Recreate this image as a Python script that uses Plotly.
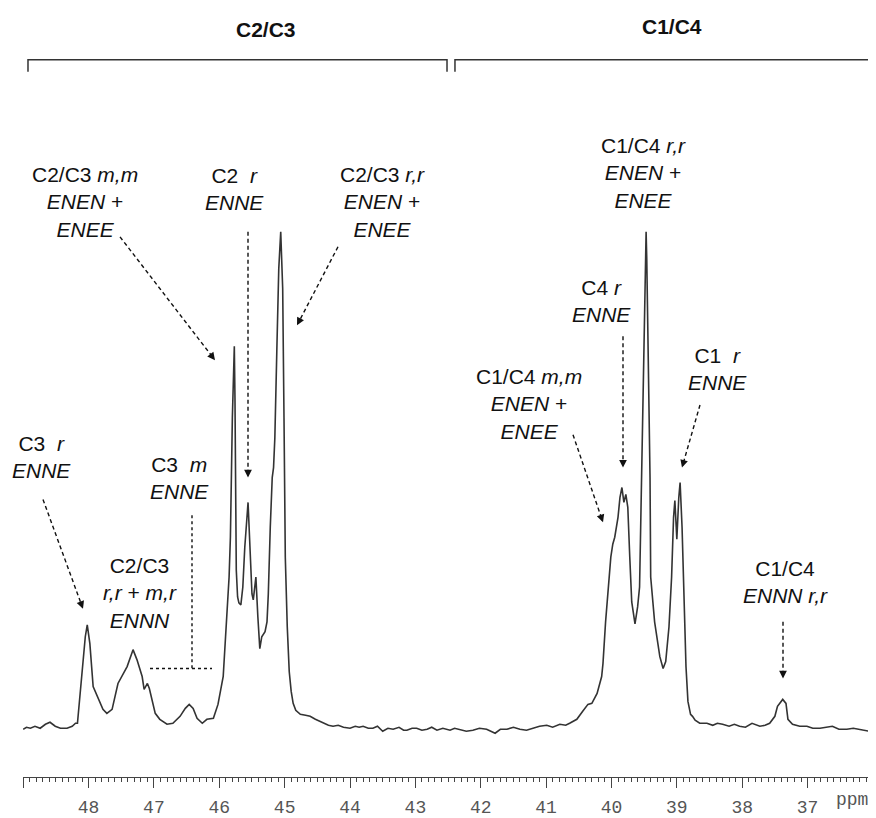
import plotly.graph_objects as go

# ---- spectrum data: chemical shift (ppm) and intensity (a.u.)
ppm = [49.00, 48.95, 48.89, 48.82, 48.74, 48.66, 48.59, 48.51, 48.43, 48.33, 48.25, 48.20,
       48.17, 48.10, 48.05, 48.02, 47.98, 47.93, 47.85, 47.78, 47.72, 47.64, 47.55, 47.49,
       47.41, 47.33, 47.32, 47.26, 47.18, 47.15, 47.10, 47.07, 47.03, 46.98, 46.91, 46.80,
       46.71, 46.60, 46.52, 46.46, 46.40, 46.34, 46.26, 46.19, 46.09, 46.02, 45.94, 45.90,
       45.85, 45.83, 45.80, 45.77, 45.76, 45.74, 45.72, 45.70, 45.67, 45.64, 45.61, 45.56,
       45.53, 45.50, 45.48, 45.44, 45.41, 45.38, 45.35, 45.30, 45.27, 45.25, 45.22, 45.19,
       45.17, 45.15, 45.12, 45.09, 45.06, 45.03, 45.01, 44.99, 44.96, 44.93, 44.90, 44.87,
       44.83, 44.76, 44.68, 44.61, 44.53, 44.47, 44.41, 44.33, 44.26, 44.18, 44.10, 44.00,
       43.92, 43.86, 43.80, 43.72, 43.65, 43.58, 43.50, 43.42, 43.34, 43.25, 43.18, 43.13,
       43.05, 42.98, 42.90, 42.82, 42.75, 42.67, 42.58, 42.47, 42.40, 42.32, 42.22, 42.12,
       42.02, 41.91, 41.84, 41.78, 41.70, 41.60, 41.50, 41.40, 41.30, 41.20, 41.10, 40.99,
       40.90, 40.79, 40.70, 40.64, 40.53, 40.44, 40.36, 40.30, 40.22, 40.15, 40.13, 40.09,
       40.06, 40.01, 39.98, 39.95, 39.90, 39.87, 39.84, 39.81, 39.78, 39.75, 39.72, 39.69,
       39.64, 39.60, 39.57, 39.54, 39.51, 39.48, 39.47, 39.46, 39.44, 39.41, 39.40, 39.34,
       39.26, 39.21, 39.17, 39.12, 39.08, 39.05, 39.03, 39.00, 38.97, 38.95, 38.92, 38.89,
       38.86, 38.83, 38.79, 38.76, 38.72, 38.65, 38.54, 38.45, 38.38, 38.30, 38.20, 38.12,
       38.04, 37.95, 37.85, 37.73, 37.65, 37.58, 37.50, 37.46, 37.38, 37.33, 37.30, 37.23,
       37.12, 37.01, 36.92, 36.81, 36.72, 36.62, 36.52, 36.40, 36.30, 36.20, 36.12, 36.06]

intensity = [0, 2, 1, 3, 1, 5, 7, 3, 1, 1, 3, 6,
             6, 53, 93, 105, 86, 43, 30, 20, 16, 20, 46, 53,
             63, 78, 80, 70, 53, 40, 46, 41, 30, 16, 10, 5,
             6, 13, 21, 25, 21, 11, 6, 10, 11, 25, 53, 93,
             153, 193, 313, 385, 333, 160, 133, 127, 125, 143, 183, 228,
             183, 136, 130, 153, 113, 81, 93, 98, 108, 136, 203, 253,
             263, 293, 380, 463, 500, 443, 313, 173, 103, 58, 38, 26,
             19, 15, 14, 13, 10, 8, 6, 4, 3, 4, 2, 1,
             3, 2, 3, 1, 1, 3, -2, 1, 0, 2, -1, -1,
             1, 1, -1, 0, 2, -1, 1, -1, 1, 0, -2, -1,
             1, 0, -2, -4, 0, 0, 2, 0, -1, 1, 3, 4,
             2, 5, 4, 6, 10, 18, 25, 26, 36, 53, 66, 108,
             136, 173, 186, 193, 213, 233, 243, 228, 236, 223, 173, 128,
             106, 123, 143, 253, 383, 473, 500, 473, 383, 253, 153, 108,
             73, 61, 68, 103, 153, 213, 230, 191, 233, 248, 203, 133,
             63, 28, 15, 13, 9, 6, 6, 4, 6, 5, 3, 5,
             3, 2, 6, 3, 4, 6, 13, 23, 30, 26, 10, 5,
             3, 3, 1, 1, 2, 3, 0, 0, 1, 0, -1, -2]

tick_values = [37, 38, 39, 40, 41, 42, 43, 44, 45, 46, 47, 48, 49]
tick_labels = ["37", "38", "39", "40", "41", "42", "43", "44", "45", "46", "47", "48", ""]

region_labels = ["C2/C3", "C1/C4"]

NB = "\u00a0"
peak_labels = [
    "C2/C3 <i>m,m</i><br><i>ENEN</i> +<br><i>ENEE</i>",
    "C2" + NB + " <i>r</i><br><i>ENNE</i>",
    "C2/C3 <i>r,r</i><br><i>ENEN</i> +<br><i>ENEE</i>",
    "C3" + NB + " <i>r</i><br><i>ENNE</i>",
    "C3" + NB + " <i>m</i><br><i>ENNE</i>",
    "C2/C3<br><i>r,r</i> + <i>m,r</i><br><i>ENNN</i>",
    "C1/C4 <i>r,r</i><br><i>ENEN</i> +<br><i>ENEE</i>",
    "C4 <i>r</i><br><i>ENNE</i>",
    "C1" + NB + " <i>r</i><br><i>ENNE</i>",
    "C1/C4 <i>m,m</i><br><i>ENEN</i> +<br><i>ENEE</i>",
    "C1/C4<br><i>ENNN r,r</i>",
]

# ---- layout geometry. The page puts the figure 8 px in from the window's corner,
# so positions below are measured in window pixels and shifted by OFFX / OFFY.
OFFX, OFFY = 8, 8
W, H = 868, 810
ML, MR, MT, MB = 15, 7, 0, 37
PW, PH = W - ML - MR, H - MT - MB


def px(x):
    return (x - OFFX - ML) / PW


def py(y):
    return (H - MB - (y - OFFY)) / PH


label_pos = [(85, 203), (234, 190), (382, 203), (41, 459), (179, 480), (140, 596),
             (643, 174), (601, 303), (717, 371), (529, 406), (785, 585)]

arrows = [((120, 238), (215, 362)), ((248, 233), (248, 480)), ((338, 248), (297, 327)),
          ((43, 502), (83, 612)), ((623, 338), (623, 470)), ((700, 407), (682, 470)),
          ((573, 437), (603, 525)), ((783, 625), (783, 682))]

fig = go.Figure()
fig.add_trace(go.Scatter(x=ppm, y=intensity, mode="lines",
                         line=dict(color="#333333", width=1.6), hoverinfo="skip",
                         showlegend=False))

ann = []
shapes = []
txt_font = dict(family="Liberation Sans, Arial, sans-serif", size=21, color="#111111")

for t, (x, y) in zip(peak_labels, label_pos):
    ann.append(dict(text=t, x=px(x), y=py(y), xref="paper", yref="paper",
                    xanchor="center", yanchor="middle", align="center",
                    showarrow=False, font=txt_font))

for (x0, y0), (x1, y1) in arrows:
    dx, dy = x0 - x1, y0 - y1
    L = (dx * dx + dy * dy) ** 0.5
    ux, uy = dx / L, dy / L
    shapes.append(dict(type="line", xref="paper", yref="paper",
                       x0=px(x0), y0=py(y0), x1=px(x1 + ux * 5), y1=py(y1 + uy * 5),
                       line=dict(color="#111111", width=1.4, dash="4px,3px")))
    ann.append(dict(text="", x=px(x1), y=py(y1), xref="paper", yref="paper",
                    ax=ux * 9, ay=uy * 9, showarrow=True, arrowhead=2, arrowsize=1.1,
                    arrowwidth=1.4, arrowcolor="#111111", standoff=0))

# dotted L for C3 m
shapes.append(dict(type="line", xref="paper", yref="paper", x0=px(192), y0=py(518),
                   x1=px(192), y1=py(672), line=dict(color="#111111", width=1.4, dash="dot")))
shapes.append(dict(type="line", xref="paper", yref="paper", x0=px(150), y0=py(672),
                   x1=px(212), y1=py(672), line=dict(color="#111111", width=1.4, dash="dot")))

# brackets
for (xa, xb) in [(28, 447), (455, 869)]:
    path = "M {:.4f},{:.4f} L {:.4f},{:.4f} L {:.4f},{:.4f} L {:.4f},{:.4f}".format(
        px(xa), py(72), px(xa), py(60), px(xb), py(60), px(xb), py(72))
    shapes.append(dict(type="path", xref="paper", yref="paper", path=path,
                       line=dict(color="#333333", width=1.5)))

for t, (x, y) in zip(region_labels, [(266, 30), (672, 27)]):
    ann.append(dict(text="<b>" + t + "</b>", x=px(x), y=py(y), xref="paper", yref="paper",
                    xanchor="center", yanchor="middle", showarrow=False,
                    font=dict(family="Liberation Sans, Arial, sans-serif", size=21,
                              color="#111111")))

ann.append(dict(text="ppm", x=px(852), y=py(804), xref="paper", yref="paper",
                xanchor="center", yanchor="middle", showarrow=False,
                font=dict(family="Liberation Mono, Courier New, monospace", size=18,
                          color="#555555")))

fig.update_layout(
    width=W, height=H,
    margin=dict(l=ML, r=MR, t=MT, b=MB, pad=0),
    paper_bgcolor="white", plot_bgcolor="white",
    annotations=ann, shapes=shapes,
    xaxis=dict(range=[49.003, 36.06], showgrid=False, zeroline=False,
               showline=True, linecolor="#444444", linewidth=1.3,
               tickmode="array", tickvals=tick_values, ticktext=tick_labels,
               ticks="outside", ticklen=10, tickwidth=1.2, tickcolor="#444444",
               tickfont=dict(family="Liberation Mono, Courier New, monospace", size=18,
                             color="#555555"),
               ticklabelstandoff=3,
               minor=dict(tickmode="linear", tick0=0, dtick=0.1, ticks="outside",
                          ticklen=4, tickwidth=1, tickcolor="#444444", showgrid=False)),
    yaxis=dict(visible=False, range=[-48, 725], fixedrange=True),
)

fig.write_html("out.html")
